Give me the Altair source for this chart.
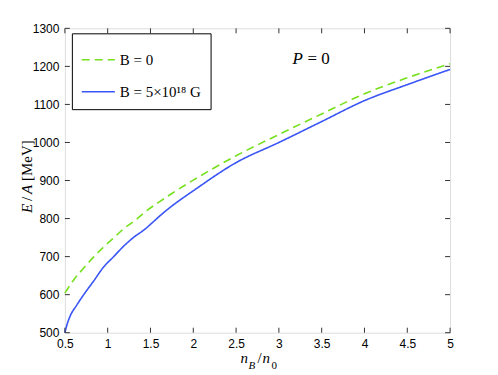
import altair as alt
import pandas as pd

# B = 0 curve
x_b0 = [0.5, 0.6, 0.72, 0.84, 0.955, 1.07, 1.18, 1.32, 1.44, 1.59, 1.75, 2.0,
        2.5, 3.0, 3.5, 4.0, 4.5, 5.0]
e_b0 = [604, 638, 670, 700, 726, 749, 772, 795, 818, 842, 866, 901,
        965, 1021, 1075, 1128, 1170, 1207]
# B = 5e18 G curve
x_b = [0.5, 0.53, 0.56, 0.64, 0.72, 0.84, 0.95, 1.07, 1.18, 1.30, 1.44, 1.53,
       1.64, 1.75, 2.0, 2.5, 3.0, 3.5, 4.0, 4.5, 5.0]
e_b = [500, 525, 543, 573, 600, 637, 672, 700, 726, 750, 773, 791,
       813, 833, 873, 947, 1000, 1055, 1110, 1152, 1192]

series = ["B = 0", "B = 5×10¹⁸ G"]
colors = ["#77e01e", "#3a55f5"]
x_ticks = [0.5, 1, 1.5, 2, 2.5, 3, 3.5, 4, 4.5, 5]
y_ticks = [500, 600, 700, 800, 900, 1000, 1100, 1200, 1300]

W, H = 386, 305

df = pd.concat([
    pd.DataFrame({"x": x_b0, "e": e_b0, "s": series[0]}),
    pd.DataFrame({"x": x_b, "e": e_b, "s": series[1]}),
])

xs = alt.Scale(domain=[0.5, 5], nice=False, zero=False)
ys = alt.Scale(domain=[500, 1300], nice=False, zero=False)
axis_common = dict(title=None, domain=False, ticks=False, grid=False,
                   labelFlush=False, labelOverlap=False,
                   labelFont="Liberation Sans", labelFontSize=12,
                   labelColor="black", labelPadding=6)
xaxis = alt.Axis(values=x_ticks, format="~g", **axis_common)
yaxis = alt.Axis(values=y_ticks, format="d", **axis_common)

lines = alt.Chart(df).mark_line(strokeWidth=1.6, interpolate="monotone").encode(
    x=alt.X("x:Q", scale=xs, axis=xaxis),
    y=alt.Y("e:Q", scale=ys, axis=yaxis),
    color=alt.Color("s:N", scale=alt.Scale(domain=series, range=colors),
                    legend=alt.Legend(title=None, orient="none", legendX=7, legendY=5,
                                      strokeColor="black", fillColor="white",
                                      padding=9, rowPadding=6,
                                      labelFont="Liberation Serif", labelFontSize=15,
                                      labelColor="black",
                                      symbolType="stroke", symbolSize=1100,
                                      symbolStrokeWidth=1.6)),
    strokeDash=alt.StrokeDash("s:N", scale=alt.Scale(domain=series, range=[[8, 5], [1, 0]]),
                              legend=None),
)

tx = pd.DataFrame({"v": x_ticks})
ty = pd.DataFrame({"v": y_ticks})
tick_style = dict(color="#333", strokeWidth=1)
xt_bot = alt.Chart(tx).mark_rule(**tick_style).encode(x=alt.X("v:Q", scale=xs, axis=xaxis), y=alt.value(H), y2=alt.value(H - 5))
xt_top = alt.Chart(tx).mark_rule(**tick_style).encode(x=alt.X("v:Q", scale=xs, axis=xaxis), y=alt.value(0), y2=alt.value(5))
yt_l = alt.Chart(ty).mark_rule(**tick_style).encode(y=alt.Y("v:Q", scale=ys, axis=yaxis), x=alt.value(0), x2=alt.value(5))
yt_r = alt.Chart(ty).mark_rule(**tick_style).encode(y=alt.Y("v:Q", scale=ys, axis=yaxis), x=alt.value(W), x2=alt.value(W - 5))


def label(text, x, y, size=15, italic=False, angle=0):
    return alt.Chart(pd.DataFrame({"t": [text]})).mark_text(
        font="Liberation Serif", fontSize=size,
        fontStyle="italic" if italic else "normal",
        align="left", baseline="middle", angle=angle, color="black",
    ).encode(x=alt.value(x), y=alt.value(y), text="t:N")


texts = [
    label("n", 176, 330, italic=True),
    label("B", 184, 338, size=11, italic=True),
    label("/", 193, 330),
    label("n", 198, 330, italic=True),
    label("0", 207, 338, size=11),
    label("E", -38, 185, italic=True, angle=270),
    label("/", -38, 173, angle=270),
    label("A", -38, 166, italic=True, angle=270),
    label("[MeV]", -38, 153, angle=270),
    label("P", 228, 31, size=17, italic=True),
    label("= 0", 243, 31, size=17),
]

chart = alt.layer(lines, xt_bot, xt_top, yt_l, yt_r, *texts).properties(
    width=W, height=H,
    autosize=alt.AutoSizeParams(type="none"),
    padding={"left": 57, "top": 20, "right": 40, "bottom": 40},
).configure_view(stroke="#333", strokeWidth=1).configure(background="white")

chart.save("out.html", embed_options={"renderer": "svg", "actions": False})
